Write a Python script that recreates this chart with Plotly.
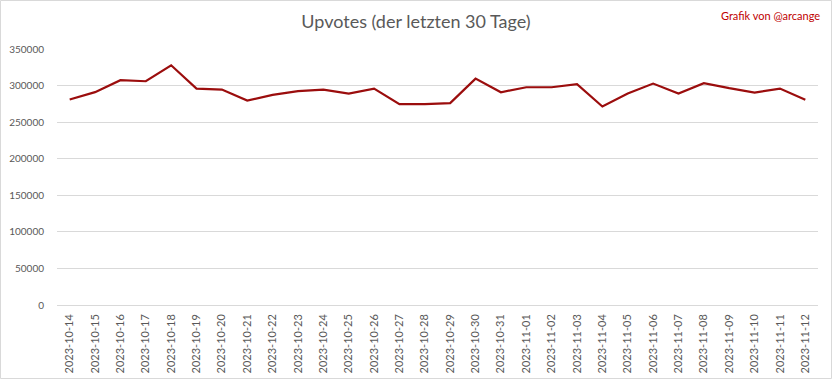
import plotly.graph_objects as go

dates = ["2023-10-14", "2023-10-15", "2023-10-16", "2023-10-17", "2023-10-18", "2023-10-19",
         "2023-10-20", "2023-10-21", "2023-10-22", "2023-10-23", "2023-10-24", "2023-10-25",
         "2023-10-26", "2023-10-27", "2023-10-28", "2023-10-29", "2023-10-30", "2023-10-31",
         "2023-11-01", "2023-11-02", "2023-11-03", "2023-11-04", "2023-11-05", "2023-11-06",
         "2023-11-07", "2023-11-08", "2023-11-09", "2023-11-10", "2023-11-11", "2023-11-12"]
upvotes = [281000, 291000, 307300, 305900, 327700, 295900,
           294500, 279500, 287300, 292300, 294500, 289100,
           295900, 274500, 274500, 276000, 309500, 290900,
           297700, 297700, 301800, 271400, 289100, 302700,
           289100, 303200, 296400, 290500, 295900, 280500]
y_ticks = [0, 50000, 100000, 150000, 200000, 250000, 300000, 350000]

W, H = 832, 379
L, R, T, B = 57, 14, 49, 74
pw, ph = W - L - R, H - T - B

fig = go.Figure(go.Scatter(x=dates, y=upvotes, mode="lines",
                           line=dict(color="#9b0d0d", width=2.2)))

fig.update_layout(
    width=W, height=H,
    margin=dict(l=L, r=R, t=T, b=B, autoexpand=False),
    paper_bgcolor="white", plot_bgcolor="white",
    font=dict(family="Lato, Open Sans, sans-serif", color="#595959"),
    showlegend=False,
    title=dict(text="Upvotes (der letzten 30 Tage)", x=0.5, xanchor="center",
               y=1 - 22 / H, yanchor="middle",
               font=dict(size=18, color="#595959", family="Lato, Open Sans, sans-serif")),
    xaxis=dict(type="category", range=[-0.5, len(dates) - 0.5], tickangle=-90,
               tickfont=dict(size=11, color="#595959"), ticklabelstandoff=6,
               showgrid=False, showline=False, zeroline=False, ticks="", automargin=False),
    yaxis=dict(range=[0, 350000], tickvals=y_ticks, ticktext=[str(v) for v in y_ticks],
               tickfont=dict(size=10, color="#595959"), gridcolor="#d9d9d9", gridwidth=1,
               zeroline=True, zerolinecolor="#d9d9d9", zerolinewidth=1, showline=False,
               ticks="", ticklabelstandoff=12, automargin=False),
    annotations=[dict(text="Grafik von @arcange", xref="paper", yref="paper",
                      x=(822 - L) / pw, y=(H - B - 15) / ph, xanchor="right", yanchor="middle",
                      showarrow=False, font=dict(size=11, color="#c00000",
                                                 family="Lato, Open Sans, sans-serif"))],
    shapes=[dict(type="rect", xref="paper", yref="paper",
                 x0=(0.5 - L) / pw, x1=(W - 0.5 - L) / pw,
                 y0=(H - B - (H - 0.5)) / ph, y1=(H - B - 0.5) / ph,
                 line=dict(color="#d9d9d9", width=1), layer="below")],
)

fig.write_html("out.html", config={"displayModeBar": False},
               post_script="document.body.style.margin='0px';")
